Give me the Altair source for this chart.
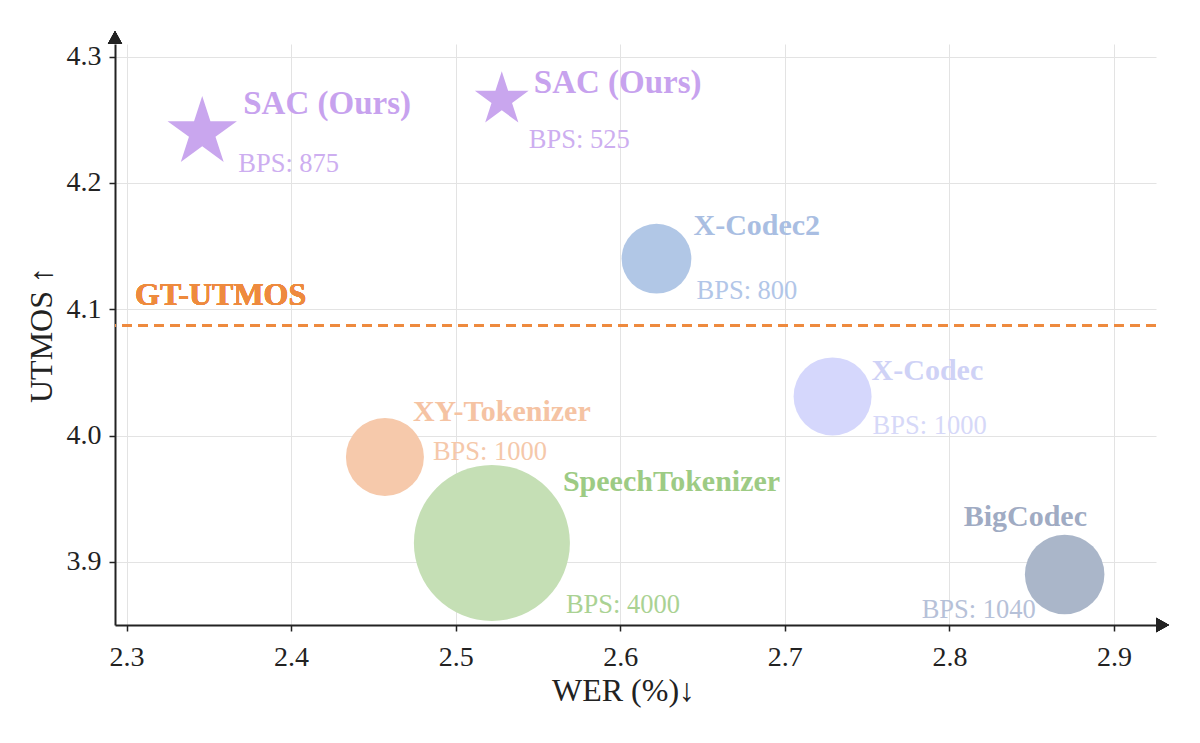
import altair as alt
import pandas as pd

# ---------------- data ----------------
models = ["SAC (Ours)", "SAC (Ours)", "X-Codec2", "X-Codec", "XY-Tokenizer", "SpeechTokenizer", "BigCodec"]
wer = [2.346, 2.528, 2.622, 2.729, 2.457, 2.522, 2.870]
utmos = [4.240, 4.266, 4.140, 4.031, 3.983, 3.915, 3.890]
bps = [875, 525, 800, 1000, 1000, 4000, 1040]
group = ["ours", "ours", "baseline", "baseline", "baseline", "baseline", "baseline"]
gt_utmos = 4.087
x_ticks = [2.3, 2.4, 2.5, 2.6, 2.7, 2.8, 2.9]
y_ticks = [3.9, 4.0, 4.1, 4.2, 4.3]
x_domain = [2.293, 2.9255]
y_domain = [3.85, 4.31]

df = pd.DataFrame({"model": models, "wer": wer, "utmos": utmos, "bps": bps, "group": group})
df["key"] = df["model"] + " | " + df["bps"].astype(str)
df["bps_label"] = "BPS: " + df["bps"].astype(str)
keys = list(df["key"])

# ---------------- styles ----------------
FONT = "Liberation Serif"
FILL = ["#C9A6EE", "#C9A6EE", "#B1C7E6", "#D5D7FC", "#F6C9AB", "#C5DFB5", "#AAB6C9"]
NAME_COLOR = ["#C7A2EE", "#C7A2EE", "#A9BEE2", "#CFD2F6", "#F5C3A3", "#9DCB84", "#A0ABC3"]
BPS_COLOR = ["#CDAEF0", "#CDAEF0", "#B2C6E8", "#D6D8F8", "#F5C8AA", "#AAD293", "#B6C1D8"]
NAME_SIZE = [33, 33, 30, 30, 30, 30, 30]
NAME_OFF = [(41, -28), (32, -17), (37, -33), (39, -25), (28, -45), (71, -61), (-101, -57)]
BPS_OFF = [(36, 32), (27, 40), (40, 32), (40, 30), (48, -5), (74, 62), (-143, 36)]
GT_COLOR = "#EE8A3E"
AXIS_COLOR = "#222222"

STAR = ("M0,-1L0.2245,-0.309L0.9511,-0.309L0.3633,0.118L0.5878,0.809L0,0.382"
        "L-0.5878,0.809L-0.3633,0.118L-0.9511,-0.309L-0.2245,-0.309Z")
ARROW_UP = "M0,-1L-0.55,0L0.55,0Z"
ARROW_RIGHT = "M1,0L0,-0.55L0,0.55Z"

x_scale = alt.Scale(domain=x_domain, nice=False, zero=False)
y_scale = alt.Scale(domain=y_domain, nice=False, zero=False)
x_axis = alt.Axis(values=x_ticks, format=".1f", title="WER (%)↓",
                  labelPadding=12, titlePadding=4, titleX=508)
y_axis = alt.Axis(values=y_ticks, format=".1f", title="UTMOS ↑",
                  labelPadding=8, titlePadding=8)


def X(field):
    return alt.X(field, type="quantitative", scale=x_scale, axis=x_axis)


def Y(field):
    return alt.Y(field, type="quantitative", scale=y_scale, axis=y_axis)


def XD(v):
    return alt.XDatum(v, type="quantitative", scale=x_scale, axis=x_axis)


def YD(v):
    return alt.YDatum(v, type="quantitative", scale=y_scale, axis=y_axis)


base = alt.Chart(df)

points = base.mark_point(filled=True, opacity=1, strokeWidth=0).encode(
    x=X("wer"),
    y=Y("utmos"),
    size=alt.Size("bps:Q", scale=alt.Scale(domain=[0, 4000], range=[0, 24336]), legend=None),
    shape=alt.Shape("group:N", scale=alt.Scale(domain=["ours", "baseline"], range=[STAR, "circle"]),
                    legend=None),
    color=alt.Color("key:N", scale=alt.Scale(domain=keys, range=FILL), legend=None),
)

gt_rule = alt.Chart(df).mark_rule(color=GT_COLOR, strokeWidth=2.5, strokeDash=[10, 6]).encode(
    y=YD(gt_utmos)
)
gt_text = alt.Chart(df).mark_text(
    text="GT-UTMOS", align="left", baseline="middle", dx=20, dy=-31,
    font=FONT, fontSize=32, fontWeight="bold", color=GT_COLOR
).encode(x=XD(x_domain[0]), y=YD(gt_utmos))

layers = [points, gt_rule, gt_text]

for i, k in enumerate(keys):
    sel = base.transform_filter(alt.datum.key == k)
    name_t = sel.mark_text(
        align="left", baseline="middle", dx=NAME_OFF[i][0], dy=NAME_OFF[i][1],
        font=FONT, fontSize=NAME_SIZE[i], fontWeight="bold", color=NAME_COLOR[i]
    ).encode(x=X("wer"), y=Y("utmos"), text="model:N")
    bps_t = sel.mark_text(
        align="left", baseline="middle", dx=BPS_OFF[i][0], dy=BPS_OFF[i][1],
        font=FONT, fontSize=26.5, color=BPS_COLOR[i]
    ).encode(x=X("wer"), y=Y("utmos"), text="bps_label:N")
    layers += [name_t, bps_t]

arrow_up = alt.Chart(df).mark_point(shape=ARROW_UP, filled=True, opacity=1, color=AXIS_COLOR,
                                    size=676, strokeWidth=0).encode(
    x=XD(x_domain[0]), y=YD(y_domain[1]))
arrow_right = alt.Chart(df).mark_point(shape=ARROW_RIGHT, filled=True, opacity=1, color=AXIS_COLOR,
                                       size=676, strokeWidth=0).encode(
    x=XD(x_domain[1]), y=YD(y_domain[0]))
layers += [arrow_up, arrow_right]

chart = alt.layer(*layers).properties(
    width=1041, height=581,
    autosize=alt.AutoSizeParams(type="none"),
    padding={"left": 107, "top": 36, "right": 30, "bottom": 100},
).configure_view(stroke=None).configure_axis(
    domainColor=AXIS_COLOR, domainWidth=2, tickColor=AXIS_COLOR, tickWidth=1.5, tickSize=6,
    gridColor="#E3E3E3", gridWidth=1,
    labelFont=FONT, labelFontSize=28, labelColor=AXIS_COLOR,
    titleFont=FONT, titleFontSize=32, titleFontWeight="normal", titleColor=AXIS_COLOR,
)

chart.save("out.html", embed_options={"renderer": "svg", "actions": False})
